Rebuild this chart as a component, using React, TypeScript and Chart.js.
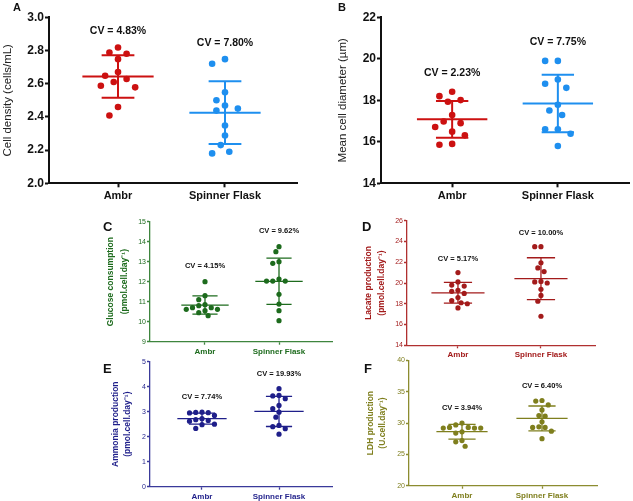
import React, { useEffect, useRef } from "react";
import { Chart, registerables } from "chart.js";
Chart.register(...registerables);

// ---------- DATA ----------
const categories = ["Ambr", "Spinner Flask"];

const cellDensityAmbr = [2.818, 2.788, 2.78, 2.748, 2.67, 2.648, 2.628, 2.61, 2.588, 2.578, 2.46, 2.408];
const cellDensitySpinner = [2.748, 2.72, 2.548, 2.5, 2.468, 2.45, 2.438, 2.348, 2.288, 2.23, 2.19, 2.18];
const cellDensityCV = ["CV = 4.83%", "CV = 7.80%"];
const cellDensityTicks = [2.0, 2.2, 2.4, 2.6, 2.8, 3.0];

const diameterAmbr = [18.41, 18.2, 18.01, 17.93, 17.29, 16.98, 16.9, 16.71, 16.49, 16.31, 15.9, 15.86];
const diameterSpinner = [19.9, 19.9, 19.0, 18.8, 18.6, 17.78, 17.51, 17.29, 16.6, 16.6, 16.39, 15.8];
const diameterCV = ["CV = 2.23%", "CV = 7.75%"];
const diameterTicks = [14, 16, 18, 20, 22];

const glucoseAmbr = [12.0, 11.3, 11.1, 10.85, 10.8, 10.7, 10.7, 10.62, 10.62, 10.55, 10.45, 10.3];
const glucoseSpinner = [13.75, 13.5, 13.0, 12.92, 12.13, 12.03, 12.03, 12.03, 11.37, 10.88, 10.55, 10.05];
const glucoseCV = ["CV = 4.15%", "CV = 9.62%"];
const glucoseTicks = [9, 10, 11, 12, 13, 14, 15];

const lactateAmbr = [21.0, 20.1, 19.8, 19.7, 19.3, 19.2, 19.0, 18.6, 18.3, 18.1, 18.0, 17.6];
const lactateSpinner = [23.5, 23.5, 21.95, 21.45, 21.1, 20.15, 20.1, 20.0, 19.4, 18.8, 18.25, 16.8];
const lactateCV = ["CV = 5.17%", "CV = 10.00%"];
const lactateTicks = [14, 16, 18, 20, 22, 24, 26];

const ammoniaAmbr = [2.98, 2.97, 2.96, 2.95, 2.85, 2.72, 2.68, 2.65, 2.62, 2.5, 2.48, 2.33];
const ammoniaSpinner = [3.92, 3.65, 3.63, 3.52, 3.25, 3.12, 2.98, 2.78, 2.45, 2.4, 2.32, 2.1];
const ammoniaCV = ["CV = 7.74%", "CV = 19.93%"];
const ammoniaTicks = [0, 1, 2, 3, 4, 5];

const ldhAmbr = [30.0, 29.7, 29.3, 29.3, 29.2, 29.2, 29.2, 28.6, 28.4, 27.2, 27.0, 26.3];
const ldhSpinner = [33.6, 33.5, 32.9, 32.1, 31.2, 31.1, 30.2, 29.4, 29.3, 29.3, 28.7, 27.5];
const ldhCV = ["CV = 3.94%", "CV = 6.40%"];
const ldhTicks = [20, 25, 30, 35, 40];

// ---------- HELPERS ----------
const FONT = "'Liberation Sans', Arial, sans-serif";

function mean(v: number[]) {
  return v.reduce((a, b) => a + b, 0) / v.length;
}
function sd(v: number[]) {
  const m = mean(v);
  return Math.sqrt(v.reduce((a, b) => a + (b - m) * (b - m), 0) / (v.length - 1));
}
// greedy beeswarm (pixel space) -> horizontal offsets in px
function swarmOffsets(values: number[], pxPerY: number, d: number, gap: number, stepF: number): number[] {
  const order = values.map((_, i) => i).sort((a, b) => values[b] - values[a]);
  const placed: { x: number; y: number }[] = [];
  const out = new Array(values.length).fill(0);
  const step = d * stepF;
  const minD = d * gap;
  for (const i of order) {
    const y = values[i] * pxPerY;
    for (let k = 0; k < 60; k++) {
      const m = k === 0 ? 0 : k % 2 === 1 ? -Math.ceil(k / 2) : Math.ceil(k / 2);
      const x = m * step;
      if (placed.every((p) => Math.hypot(p.x - x, p.y - y) >= minD)) {
        out[i] = x;
        placed.push({ x, y });
        break;
      }
    }
  }
  return out;
}

type Spec = {
  box: { left: number; top: number; width: number; height: number };
  plot: { left: number; top: number; right: number; bottom: number };
  xMin: number;
  xMax: number;
  ticks: number[];
  decimals: number;
  groups: number[][];
  cv: string[];
  colors: string[];
  axisColor: string;
  axisWidth: number;
  tickColor: string;
  tickFont: { size: number; weight: string };
  xFont: { size: number; weight: string };
  xColor: string;
  title: string | string[];
  titleFont: { size: number; weight: string; lineHeight: string | number };
  titleColor: string;
  titlePad: number;
  cvFont: string;
  cvOffset: number;
  dotR: number;
  lineW: number;
  meanHalf: number;
  capHalf: number;
  tickLen: number;
  xPad: number;
  swarmGap: number;
  swarmStep: number;
};

const cvPlugin = {
  id: "cvLabels",
  afterDatasetsDraw(chart: any, _args: any, opts: any) {
    const { ctx } = chart;
    const xs = chart.scales.x;
    const ys = chart.scales.y;
    ctx.save();
    ctx.font = opts.font;
    ctx.fillStyle = opts.color;
    ctx.textAlign = "center";
    ctx.textBaseline = "middle";
    opts.groups.forEach((vals: number[], i: number) => {
      const top = Math.max(...vals);
      ctx.fillText(opts.labels[i], xs.getPixelForValue(i + 1), ys.getPixelForValue(top) - opts.offset);
    });
    ctx.restore();
  },
};

function Panel({ spec }: { spec: Spec }) {
  const ref = useRef<HTMLCanvasElement>(null);
  useEffect(() => {
    const s = spec;
    const yMin = s.ticks[0];
    const yMax = s.ticks[s.ticks.length - 1];
    const pxPerY = (s.plot.bottom - s.plot.top) / (yMax - yMin);
    const pxPerX = (s.plot.right - s.plot.left) / (s.xMax - s.xMin);
    const datasets: any[] = [];
    s.groups.forEach((vals, gi) => {
      const cat = gi + 1;
      const color = s.colors[gi];
      const offs = swarmOffsets(vals, pxPerY, s.dotR * 2, s.swarmGap, s.swarmStep);
      const m = mean(vals);
      const d = sd(vals);
      const line = (pts: { x: number; y: number }[]) => ({
        data: pts,
        showLine: true,
        borderColor: color,
        borderWidth: s.lineW,
        pointRadius: 0,
        fill: false,
      });
      datasets.push(line([{ x: cat - s.meanHalf, y: m }, { x: cat + s.meanHalf, y: m }]));
      datasets.push(line([{ x: cat, y: m + d }, { x: cat, y: m - d }]));
      datasets.push(line([{ x: cat - s.capHalf, y: m + d }, { x: cat + s.capHalf, y: m + d }]));
      datasets.push(line([{ x: cat - s.capHalf, y: m - d }, { x: cat + s.capHalf, y: m - d }]));
      datasets.push({
        data: vals.map((v, i) => ({ x: cat + offs[i] / pxPerX, y: v })),
        pointRadius: s.dotR,
        pointBackgroundColor: color,
        pointBorderWidth: 0,
        showLine: false,
      });
    });

    const yWidth = s.plot.left - s.box.left;
    const xHeight = s.box.top + s.box.height - s.plot.bottom;
    const chart = new Chart(ref.current as HTMLCanvasElement, {
      type: "scatter",
      data: { datasets },
      plugins: [cvPlugin as any],
      options: {
        responsive: false,
        maintainAspectRatio: false,
        animation: false,
        devicePixelRatio: 1,
        layout: {
          padding: {
            left: 0,
            top: s.plot.top - s.box.top,
            right: s.box.left + s.box.width - s.plot.right,
            bottom: 0,
          },
        },
        plugins: {
          legend: { display: false },
          tooltip: { enabled: false },
          cvLabels: {
            groups: s.groups,
            labels: s.cv,
            font: s.cvFont,
            color: "#111",
            offset: s.cvOffset,
          },
        } as any,
        scales: {
          x: {
            type: "linear",
            min: s.xMin,
            max: s.xMax,
            afterBuildTicks: (sc: any) => {
              sc.ticks = categories.map((_, i) => ({ value: i + 1 }));
            },
            afterFit: (sc: any) => {
              sc.height = xHeight;
            },
            ticks: {
              autoSkip: false,
              maxRotation: 0,
              padding: s.xPad,
              color: s.xColor,
              font: { family: FONT, size: s.xFont.size, weight: s.xFont.weight as any },
              callback: (v: any) => categories[Math.round(Number(v)) - 1] ?? "",
            },
            grid: {
              drawOnChartArea: false,
              drawTicks: true,
              tickLength: s.tickLen,
              tickColor: s.axisColor,
              tickWidth: s.axisWidth,
            },
            border: { display: true, color: s.axisColor, width: s.axisWidth },
          },
          y: {
            type: "linear",
            min: yMin,
            max: yMax,
            afterBuildTicks: (sc: any) => {
              sc.ticks = s.ticks.map((v) => ({ value: v }));
            },
            afterFit: (sc: any) => {
              sc.width = yWidth;
            },
            ticks: {
              autoSkip: false,
              padding: 1,
              color: s.tickColor,
              font: { family: FONT, size: s.tickFont.size, weight: s.tickFont.weight as any },
              callback: (v: any) => Number(v).toFixed(s.decimals),
            },
            grid: {
              drawOnChartArea: false,
              drawTicks: true,
              tickLength: s.tickLen,
              tickColor: s.axisColor,
              tickWidth: s.axisWidth,
            },
            border: { display: true, color: s.axisColor, width: s.axisWidth },
            title: {
              display: true,
              text: s.title,
              color: s.titleColor,
              font: {
                family: FONT,
                size: s.titleFont.size,
                weight: s.titleFont.weight as any,
                lineHeight: s.titleFont.lineHeight as any,
              },
              padding: { top: s.titlePad, bottom: 0 },
            },
          },
        },
      } as any,
    });
    return () => chart.destroy();
  }, [spec]);
  return (
    <canvas
      ref={ref}
      width={spec.box.width}
      height={spec.box.height}
      style={{
        position: "absolute",
        left: spec.box.left,
        top: spec.box.top,
        width: spec.box.width,
        height: spec.box.height,
      }}
    />
  );
}

// ---------- PANEL SPECS ----------
const bigCommon = {
  axisColor: "#111",
  axisWidth: 2,
  tickColor: "#111",
  tickFont: { size: 12, weight: "bold" },
  xFont: { size: 11, weight: "bold" },
  xColor: "#111",
  titleFont: { size: 11.5, weight: "normal", lineHeight: 1.2 },
  titleColor: "#222",
  cvFont: `bold 10.5px ${FONT}`,
  dotR: 3.3,
  lineW: 2,
  meanHalf: 0.333,
  capHalf: 0.153,
  tickLen: 4,
  xPad: 2,
  swarmGap: 1.5,
  swarmStep: 0.65,
};

const smallCommon = {
  axisWidth: 1.3,
  tickFont: { size: 7, weight: "normal" },
  xFont: { size: 8, weight: "bold" },
  cvFont: `bold 7.5px ${FONT}`,
  dotR: 2.6,
  lineW: 1.3,
  meanHalf: 0.32,
  capHalf: 0.17,
  tickLen: 3,
  xPad: 2,
  swarmGap: 1.12,
  swarmStep: 0.6,
};

const GREEN = "#1D6B1D";
const DRED = "#A31B1B";
const NAVY = "#1F1F8A";
const OLIVE = "#7F7F1E";

const specs: Spec[] = [
  {
    ...bigCommon,
    box: { left: 0, top: 0, width: 310, height: 212 },
    plot: { left: 49, top: 17.3, right: 297, bottom: 183.3 },
    xMin: 0.355,
    xMax: 2.673,
    ticks: cellDensityTicks,
    decimals: 1,
    groups: [cellDensityAmbr, cellDensitySpinner],
    cv: cellDensityCV,
    colors: ["#CC1111", "#1E8FEF"],
    title: "Cell density (cells/mL)",
    titlePad: 1.4,
    cvOffset: 16.3,
  },
  {
    ...bigCommon,
    box: { left: 320, top: 0, width: 313, height: 212 },
    plot: { left: 381, top: 17.3, right: 632, bottom: 183.3 },
    xMin: 0.327,
    xMax: 2.673,
    ticks: diameterTicks,
    decimals: 0,
    groups: [diameterAmbr, diameterSpinner],
    cv: diameterCV,
    colors: ["#CC1111", "#1E8FEF"],
    title: "Mean cell diameter (\u00b5m)",
    titlePad: 16.1,
    cvOffset: 18.5,
  },
  {
    ...smallCommon,
    box: { left: 95, top: 212, width: 245, height: 150 },
    plot: { left: 150, top: 221.7, right: 332, bottom: 341.7 },
    xMin: 0.257,
    xMax: 2.716,
    ticks: glucoseTicks,
    decimals: 0,
    groups: [glucoseAmbr, glucoseSpinner],
    cv: glucoseCV,
    colors: [GREEN, GREEN],
    axisColor: "#3E853E",
    tickColor: GREEN,
    xColor: GREEN,
    title: ["Glucose consumption", "(pmol.cell.day\u207b\u00b9)"],
    titleFont: { size: 8.5, weight: "bold", lineHeight: "14px" },
    titleColor: GREEN,
    titlePad: 8.7,
    cvOffset: 15.5,
  },
  {
    ...smallCommon,
    box: { left: 350, top: 212, width: 283, height: 150 },
    plot: { left: 407, top: 220.7, right: 595, bottom: 345.3 },
    xMin: 0.386,
    xMax: 2.651,
    ticks: lactateTicks,
    decimals: 0,
    groups: [lactateAmbr, lactateSpinner],
    cv: lactateCV,
    colors: [DRED, DRED],
    axisColor: "#B03030",
    tickColor: DRED,
    xColor: DRED,
    title: ["Lacate production", "(pmol.cell.day\u207b\u00b9)"],
    titleFont: { size: 8.5, weight: "bold", lineHeight: "13.5px" },
    titleColor: DRED,
    titlePad: 11.5,
    cvOffset: 14,
  },
  {
    ...smallCommon,
    box: { left: 95, top: 355, width: 245, height: 146 },
    plot: { left: 150, top: 361.7, right: 332, bottom: 486.7 },
    xMin: 0.325,
    xMax: 2.688,
    ticks: ammoniaTicks,
    decimals: 0,
    groups: [ammoniaAmbr, ammoniaSpinner],
    cv: ammoniaCV,
    colors: [NAVY, NAVY],
    axisColor: "#3A3A9A",
    tickColor: NAVY,
    xColor: NAVY,
    title: ["Ammonia production", "(pmol.cell.day\u207b\u00b9)"],
    titleFont: { size: 8.5, weight: "bold", lineHeight: "12.5px" },
    titleColor: NAVY,
    titlePad: 14.4,
    cvOffset: 15,
  },
  {
    ...smallCommon,
    box: { left: 350, top: 355, width: 283, height: 146 },
    plot: { left: 409, top: 360.4, right: 597, bottom: 485.7 },
    xMin: 0.3375,
    xMax: 2.6875,
    ticks: ldhTicks,
    decimals: 0,
    groups: [ldhAmbr, ldhSpinner],
    cv: ldhCV,
    colors: [OLIVE, OLIVE],
    axisColor: "#8C8C30",
    tickColor: OLIVE,
    xColor: OLIVE,
    title: ["LDH production", "(U.cell.day\u207b\u00b9)"],
    titleFont: { size: 8.5, weight: "bold", lineHeight: "12px" },
    titleColor: OLIVE,
    titlePad: 14.3,
    cvOffset: 15,
  },
];

const letters = [
  { t: "A", left: 13, top: 1.6, size: 11 },
  { t: "B", left: 338, top: 1.6, size: 11 },
  { t: "C", left: 103, top: 220.3, size: 13 },
  { t: "D", left: 362, top: 220.3, size: 13 },
  { t: "E", left: 103, top: 362.3, size: 13 },
  { t: "F", left: 364, top: 362.3, size: 13 },
];

export default function App() {
  useEffect(() => {
    document.body.style.margin = "0";
    document.body.style.background = "#fff";
  }, []);
  return (
    <div style={{ position: "relative", width: 633, height: 501, overflow: "hidden", background: "#fff" }}>
      {specs.map((s, i) => (
        <Panel key={i} spec={s} />
      ))}
      {letters.map((l) => (
        <div
          key={l.t}
          style={{
            position: "absolute",
            left: l.left,
            top: l.top,
            fontFamily: FONT,
            fontWeight: "bold",
            fontSize: l.size,
            lineHeight: 1,
            color: "#111",
          }}
        >
          {l.t}
        </div>
      ))}
    </div>
  );
}
